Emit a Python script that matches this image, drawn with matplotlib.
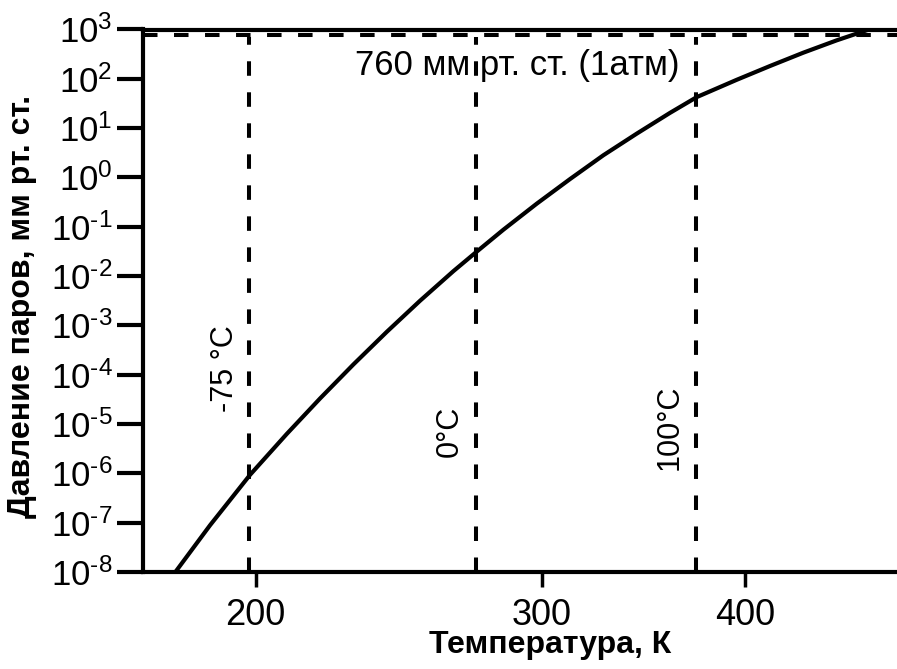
import matplotlib
matplotlib.use("Agg")
import matplotlib.pyplot as plt
from matplotlib import font_manager, ticker
from matplotlib.ft2font import FT2Font

# curve: temperature (K) and log10 of vapour pressure (mm Hg)
temp_k = [178.5, 187.5, 198.4, 209.0, 219.1, 229.7, 240.8, 252.4, 264.6, 272.9,
          284.0, 297.8, 312.2, 327.2, 343.1, 359.6, 373.5, 395.2, 414.3, 434.3,
          455.3, 475.6]
log_p = [-8.0, -7.05, -6.03, -5.20, -4.48, -3.79, -3.13, -2.50, -1.90, -1.53,
         -1.06, -0.53, -0.03, 0.45, 0.89, 1.31, 1.63, 1.98, 2.26, 2.53,
         2.78, 2.99]

marker_temps = [198.15, 273.15, 373.15]
marker_labels = ["-75 °C", "0°C", "100°C"]
atm_level = 760
x_ticks = [200, 300, 400]
x_tick_labels = ["200", "300", "400"]
y_exponents = [3, 2, 1, 0, -1, -2, -3, -4, -5, -6, -7, -8]

plt.rcParams["font.family"] = ["Liberation Sans", "DejaVu Sans"]

# hyphen-like minus in exponents, as in the original
hyphen = "-"
try:
    f = FT2Font(font_manager.findfont("Liberation Sans"))
    if f.get_char_index(0x2010):
        hyphen = "\u2010"
except Exception:
    pass


def exp_label(k):
    s = str(k).replace("-", hyphen)
    return "$\\mathregular{10^{" + s + "}}$"


fig = plt.figure(figsize=(8.97, 6.69), dpi=100)
W, H = 897, 669
left_px, right_px, top_px, bot_px = 143, 897, 29.5, 572
ax = fig.add_axes([left_px / W, 1 - bot_px / H, (right_px - left_px) / W, (bot_px - top_px) / H])

pressure = [10 ** v for v in log_p]
ax.plot(temp_k, pressure, color="black", lw=3, solid_joinstyle="round")

ax.set_xscale("log")
ax.set_yscale("log")
ax.set_xlim(170.5, 495.9)
ax.set_ylim(1e-8, 1e3)

dash = (3.6, 4.1)
ax.axhline(atm_level, color="black", lw=2.9, dashes=dash)
ax.vlines(marker_temps, 1e-8, 700, colors="black", lw=2.9, linestyles=[(0, dash)])

ax.text(289.5, 190, "760 мм рт. ст. (1атм)", fontsize=25, ha="center", va="center")
label_pos = [(191.5, 10 ** -3.88), (263.4, 10 ** -5.15), (359.3, 10 ** -5.07)]
for (tx, ty), lab in zip(label_pos, marker_labels):
    ax.text(tx, ty, lab, fontsize=22, rotation=90, ha="center", va="center")

ax.set_xticks(x_ticks)
ax.set_xticklabels(x_tick_labels)
ax.xaxis.set_minor_locator(ticker.NullLocator())
ax.set_yticks([10.0 ** k for k in y_exponents])
ax.set_yticklabels([exp_label(k) for k in y_exponents])
ax.yaxis.set_minor_locator(ticker.NullLocator())
ax.tick_params(axis="y", labelsize=25, length=19, width=3, pad=3)
ax.tick_params(axis="x", labelsize=26, length=11, width=2.5, pad=8)

for side in ["left", "bottom", "top"]:
    ax.spines[side].set_linewidth(3)
ax.spines["right"].set_visible(False)

ax.set_xlabel("Температура, К", fontsize=23, fontweight="bold")
ax.set_ylabel("Давление паров, мм рт. ст.", fontsize=23, fontweight="bold")
ax.xaxis.set_label_coords(0.54, -0.107)
ax.yaxis.set_label_coords(-0.1406, 0.49)

fig.savefig("out.png", dpi=100)
